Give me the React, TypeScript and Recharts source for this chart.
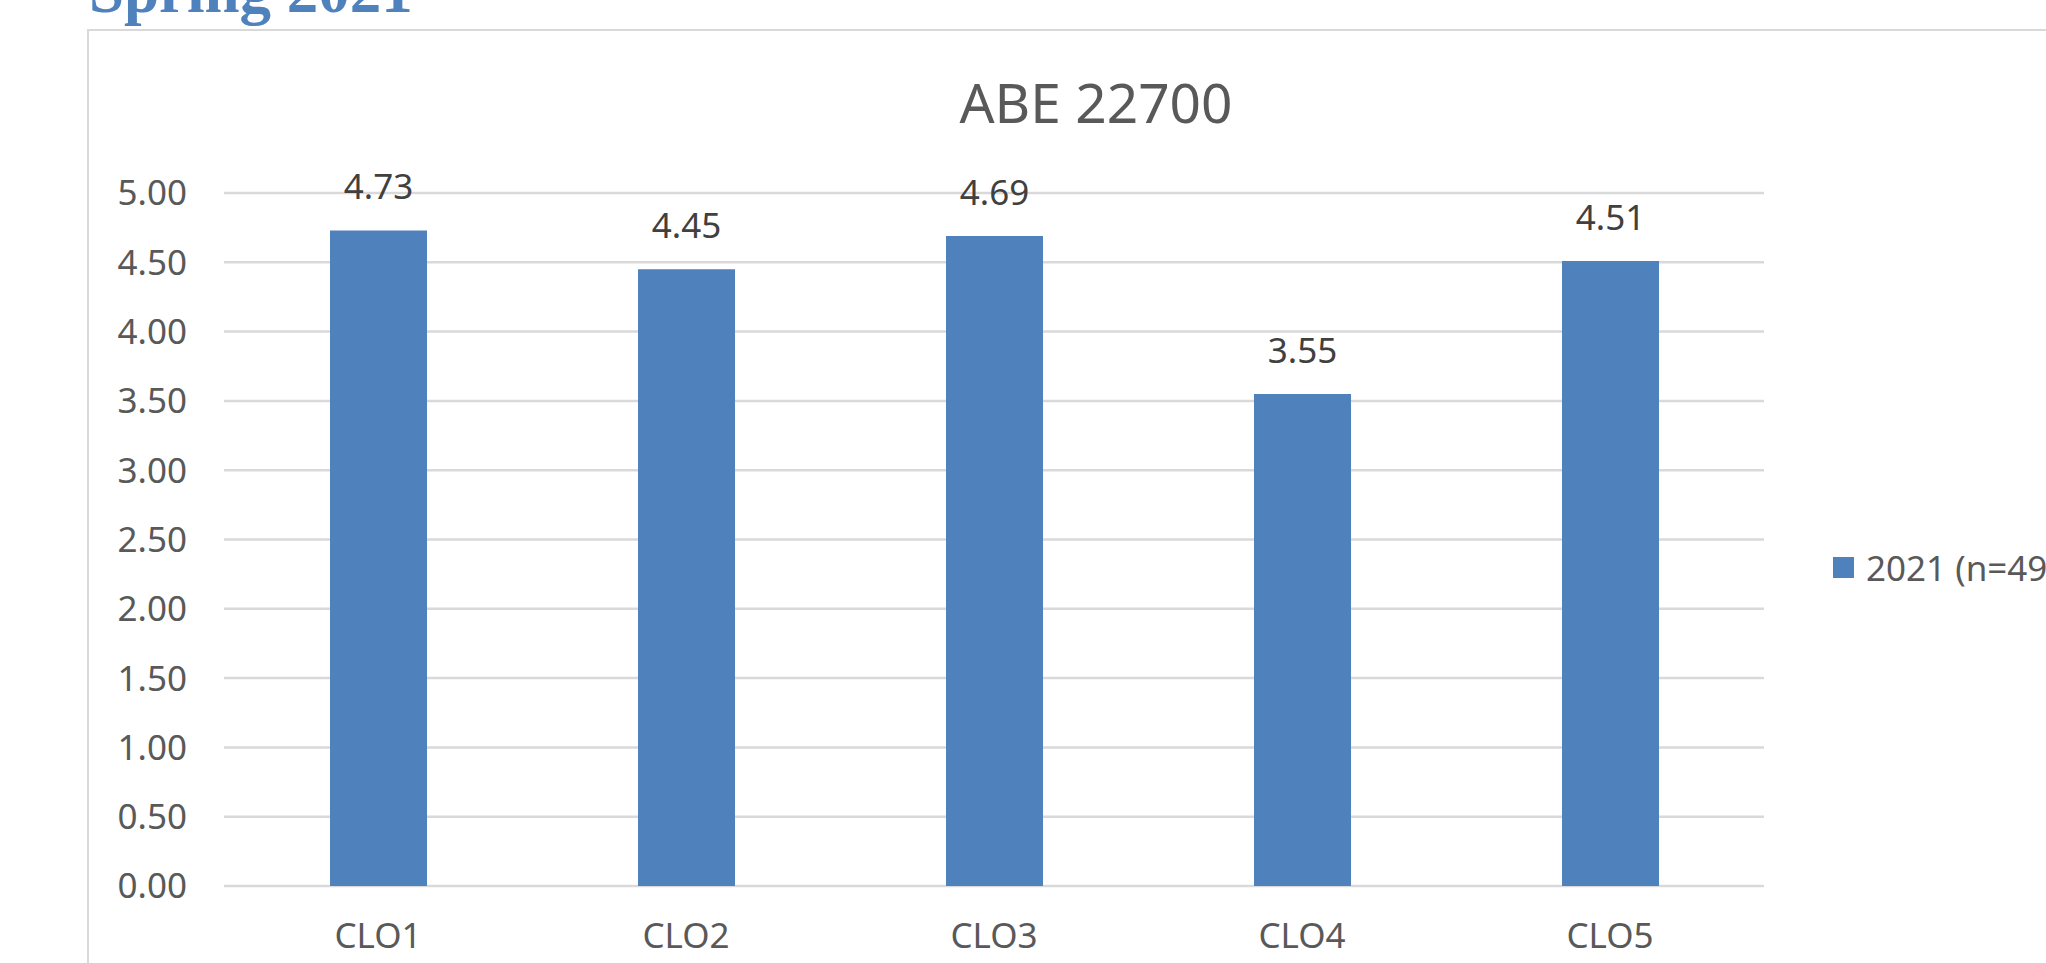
import { BarChart, Bar, XAxis, YAxis, CartesianGrid, LabelList } from "recharts"

// values
const categories = ["CLO1", "CLO2", "CLO3", "CLO4", "CLO5"]
const scores = [4.73, 4.45, 4.69, 3.55, 4.51]
const yTicks = [0, 0.5, 1, 1.5, 2, 2.5, 3, 3.5, 4, 4.5, 5]
const seriesName = "2021 (n=49)"

const BAR_COLOR = "#4F81BD"
const GRID_COLOR = "#D9D9D9"
const AXIS_TEXT = "#595959"
const FONT = "'Noto Sans', 'Open Sans', sans-serif"

const data = categories.map((name, i) => ({ name, score: scores[i] }))

export default function App() {
  return (
    <div style={{ position: "absolute", left: 0, top: 0, width: 2046, height: 963, overflow: "hidden", background: "#fff" }}>
      {/* page heading, mostly cut off at the top */}
      <div
        style={{
          position: "absolute",
          left: 89,
          top: -40,
          fontFamily: "'Liberation Serif', serif",
          fontWeight: 700,
          fontSize: 63,
          lineHeight: 1,
          color: BAR_COLOR,
          whiteSpace: "nowrap",
        }}
      >
        Spring 2021
      </div>

      {/* chart frame */}
      <div style={{ position: "absolute", left: 87, top: 29, width: 2100, height: 1000, border: `2px solid ${GRID_COLOR}` }} />

      <div
        style={{
          position: "absolute",
          left: 796,
          top: 74,
          width: 600,
          textAlign: "center",
          fontFamily: FONT,
          fontSize: 55,
          lineHeight: 1,
          color: AXIS_TEXT,
        }}
      >
        ABE 22700
      </div>

      <div style={{ position: "absolute", left: 0, top: 0 }}>
        <BarChart width={2046} height={963} data={data} margin={{ top: 193, right: 282, left: 104, bottom: 47 }}>
          <CartesianGrid vertical={false} stroke={GRID_COLOR} strokeWidth={2.5} />
          <XAxis
            dataKey="name"
            axisLine={false}
            tickLine={false}
            tickSize={0}
            tickMargin={37}
            height={30}
            tick={{ fill: AXIS_TEXT, fontSize: 35, fontFamily: FONT }}
          />
          <YAxis
            domain={[0, 5]}
            ticks={yTicks}
            interval={0}
            width={120}
            axisLine={false}
            tickLine={false}
            tickSize={0}
            tickMargin={37}
            tickFormatter={(v: number) => v.toFixed(2)}
            tick={{ fill: AXIS_TEXT, fontSize: 35, fontFamily: FONT }}
          />
          <Bar dataKey="score" name={seriesName} fill={BAR_COLOR} barSize={97} isAnimationActive={false}>
            <LabelList
              dataKey="score"
              position="top"
              offset={31}
              formatter={(v: number) => v.toFixed(2)}
              style={{ fill: "#404040", fontSize: 35, fontFamily: FONT }}
            />
          </Bar>
        </BarChart>
      </div>

      {/* legend, cut off at the right edge like the reference */}
      <div
        style={{
          position: "absolute",
          left: 1833,
          top: 550,
          display: "flex",
          alignItems: "center",
          whiteSpace: "nowrap",
          fontFamily: FONT,
        }}
      >
        <span style={{ display: "inline-block", width: 21, height: 21, background: BAR_COLOR, marginRight: 12 }} />
        <span style={{ fontSize: 35, color: AXIS_TEXT, lineHeight: 1 }}>{seriesName}</span>
      </div>
    </div>
  )
}
